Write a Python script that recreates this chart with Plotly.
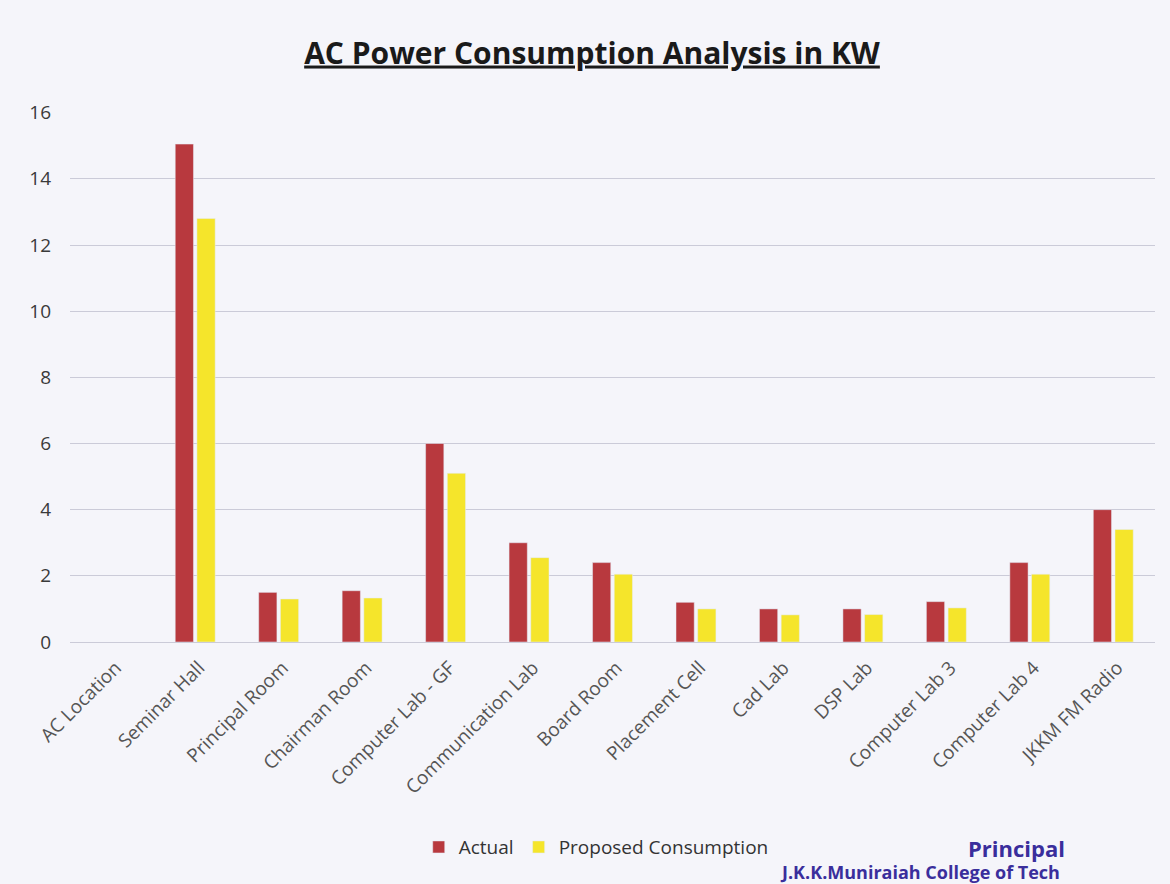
import plotly.graph_objects as go

categories = ["AC Location", "Seminar Hall", "Principal Room", "Chairman Room",
              "Computer Lab - GF", "Communication Lab", "Board Room", "Placement Cell",
              "Cad Lab", "DSP Lab", "Computer Lab 3", "Computer Lab 4", "JKKM FM Radio"]
actual = [None, 15.05, 1.5, 1.55, 6.0, 3.0, 2.4, 1.2, 1.0, 1.0, 1.22, 2.4, 4.0]
proposed = [None, 12.8, 1.3, 1.33, 5.1, 2.55, 2.05, 1.0, 0.82, 0.83, 1.03, 2.05, 3.4]
y_ticks = [0, 2, 4, 6, 8, 10, 12, 14, 16]

FONT = "'Open Sans', sans-serif"

fig = go.Figure()
fig.add_trace(go.Bar(name="Actual", x=categories, y=actual, marker_color="#B8393E"))
fig.add_trace(go.Bar(name="Proposed Consumption", x=categories, y=proposed, marker_color="#F5E52B"))

fig.update_layout(
    width=1170, height=884,
    margin=dict(l=70, r=15, t=112, b=242),
    paper_bgcolor="#F5F5FA", plot_bgcolor="#F5F5FA",
    barmode="group", bargap=0.48, bargroupgap=0.16,
    title=dict(text="<b><u>AC Power Consumption Analysis in KW</u></b>",
               x=0.506, xanchor="center", y=0.94, yref="container", yanchor="middle",
               font=dict(family=FONT, size=30, color="#1a1a1a")),
    legend=dict(orientation="h", x=0.485, xanchor="center", y=-0.387, yanchor="middle",
                font=dict(family=FONT, size=19, color="#333333"),
                bgcolor="rgba(0,0,0,0)", itemwidth=30, traceorder="normal"),
    font=dict(family=FONT),
)
fig.update_yaxes(range=[0, 16.02], tickvals=y_ticks, showgrid=True, gridcolor="#CBCBD8",
                 gridwidth=1.2, zeroline=True, zerolinecolor="#CBCBD8", zerolinewidth=1.2,
                 tickfont=dict(family=FONT, size=19, color="#3a3a3a"), ticks="",
                 ticklabelstandoff=18, showline=False)
fig.update_xaxes(tickangle=-45, tickfont=dict(family=FONT, size=19, color="#555555"),
                 showline=False, ticks="", ticklabelstandoff=10, ticklabelshift=4)

fig.add_annotation(text="<b>Principal</b>", xref="paper", yref="paper",
                   x=(1016 - 70) / 1085, y=(642 - 848) / 530, showarrow=False,
                   xanchor="center", yanchor="middle",
                   font=dict(family=FONT, size=22, color="#3A2E9C"))
fig.add_annotation(text="<b>J.K.K.Muniraiah College of Tech</b>", xref="paper", yref="paper",
                   x=(778 - 70) / 1085, y=(642 - 858) / 530, xanchor="left", yanchor="top",
                   showarrow=False,
                   font=dict(family=FONT, size=18, color="#3A2E9C"))

fig.write_html("out.html", post_script="document.body.style.margin='0';",
               config={"displayModeBar": False})
